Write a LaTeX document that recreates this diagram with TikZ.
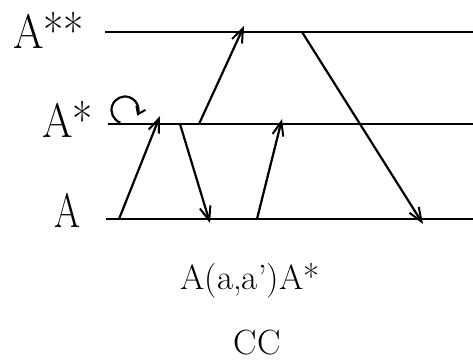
\documentclass[tikz,border=0pt]{standalone}
\usetikzlibrary{arrows.meta}
\begin{document}
\begin{tikzpicture}[x=1pt,y=1pt,
  level/.style={line width=2.3pt},
  trans/.style={line width=2.2pt,-{Straight Barb[length=14pt,width=11pt,line width=2pt]}},
  biglabel/.style={anchor=base west,inner sep=0pt,font=\fontsize{44}{50}\selectfont},
  caption/.style={anchor=base,inner sep=0pt,font=\fontsize{35}{40}\selectfont}]
\useasboundingbox (0,0) rectangle (473,362);
% level lines
\coordinate (l2s) at (105,330); \coordinate (l2e) at (473,330);
\coordinate (l1s) at (108,238); \coordinate (l1e) at (473,238);
\coordinate (l0s) at (106,143); \coordinate (l0e) at (473,143);
\draw[level] (l2s) -- (l2e);
\draw[level] (l1s) -- (l1e);
\draw[level] (l0s) -- (l0e);
% labels
\node[biglabel] (tA2) at (13,313) {\scalebox{1}[1.1]{A**}};
\node[biglabel] (tA1) at (42,225) {\scalebox{1}[1.1]{A*}};
\node[biglabel] (tA0) at (54,135) {\scalebox{0.85}[1.1]{A}};
\node[caption] (cap1) at (250,73) {A(a,a')A*};
\node[caption] (cap2) at (257,8) {CC};
% transitions
\coordinate (a1s) at (119,143); \coordinate (a1e) at (160,246);
\coordinate (a2s) at (180,238); \coordinate (a2e) at (210,139);
\coordinate (a3s) at (199,238); \coordinate (a3e) at (244,336);
\coordinate (a4s) at (257,143); \coordinate (a4e) at (282,243);
\coordinate (a5s) at (302,330); \coordinate (a5e) at (423,138);
\draw[trans] (a1s) -- (a1e);
\draw[trans] (a2s) -- (a2e);
\draw[trans] (a3s) -- (a3e);
\draw[trans] (a4s) -- (a4e);
\draw[trans] (a5s) -- (a5e);
% curl
\coordinate (cc) at (125,252);
\draw[line width=2.2pt,-{Straight Barb[length=7pt,width=10pt,line width=2pt]}]
  ([shift={(250:13.5)}]cc) arc[start angle=250,end angle=-25,radius=13.5];
\end{tikzpicture}
\end{document}
